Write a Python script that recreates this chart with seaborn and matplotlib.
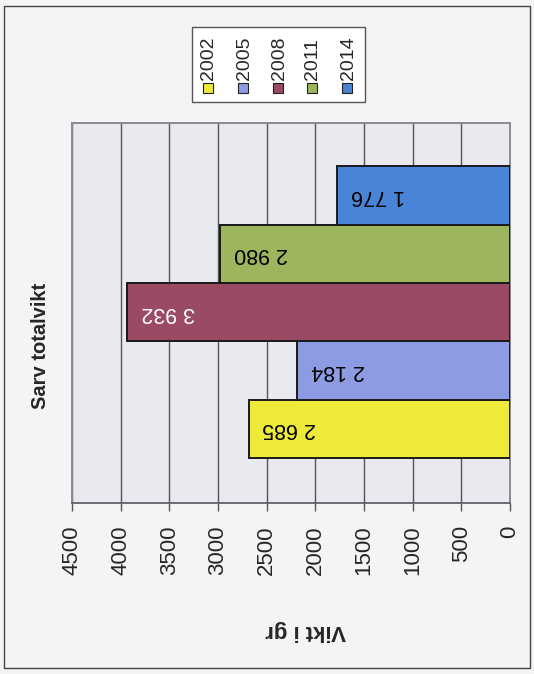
import matplotlib
matplotlib.use('Agg')
import matplotlib.pyplot as plt
import seaborn as sns
import pandas as pd
from matplotlib.patches import Rectangle

years = ['2002', '2005', '2008', '2011', '2014']
weights = [2685, 2184, 3932, 2980, 1776]
colors = ['#eeea3a', '#8d9ce2', '#9a4a62', '#9db55c', '#4a84d6']
label_colors = ['black', 'black', 'white', 'black', 'black']
xticks = [0, 500, 1000, 1500, 2000, 2500, 3000, 3500, 4000, 4500]
title = 'Sarv totalvikt'
value_title = 'Vikt i gr'

W, H = 534, 674

sns.set_style('white')
plt.rcParams['font.family'] = ['Liberation Sans', 'DejaVu Sans']

df = pd.DataFrame({'year': years, 'weight': weights})
palette = dict(zip(years, colors))
order = years[::-1]  # 2014 at the top


def fx(x):
    return x / W


def fy(y):
    return 1 - y / H


fig = plt.figure(figsize=(W / 100, H / 100), dpi=100)
fig.patch.set_facecolor('#f3f4f6')
ax = fig.add_axes([fx(72), fy(503), fx(510) - fx(72), fy(123) - fy(503)])
ax.set_facecolor('#e9eaef')

sns.barplot(data=df, y='year', x='weight', hue='year', order=order,
            hue_order=years, palette=palette, dodge=False, width=1.0,
            saturation=1, edgecolor='#1a1a1a', linewidth=1.4, legend=False,
            ax=ax, zorder=3)

ax.set_xlim(4500, 0)
ax.set_ylim(5.27, -1.24)
ax.set_xticks(xticks)
ax.set_xticklabels([str(t) for t in xticks], rotation=90, fontsize=16)
ax.tick_params(axis='x', length=6, width=1, color='#555555', pad=10,
               direction='out', bottom=True)
ax.set_yticks([])
ax.set_ylabel('')
ax.set_xlabel('')
ax.grid(axis='x', color='#555555', linewidth=1.0, zorder=0)
ax.set_axisbelow(True)
for side in ['left', 'top', 'right']:
    ax.spines[side].set_color('#8a8a8f')
    ax.spines[side].set_linewidth(1.4)
ax.spines['bottom'].set_color('#555560')
ax.spines['bottom'].set_linewidth(1.2)

# value labels inside the bars, upside down as in the scan
for yr, val, lc in zip(years, weights, label_colors):
    pos = order.index(yr)
    txt = f'{val:,}'.replace(',', ' ')
    ax.annotate(txt, xy=(val, pos), xytext=(14, 0), textcoords='offset pixels',
                rotation=180, ha='left', va='center', fontsize=15.5,
                color=lc, zorder=5)

# titles
fig.text(fx(41), fy(346), title, rotation=90, ha='center', va='center',
         fontsize=14.5, fontweight='bold')
fig.text(fx(306), fy(630), value_title, rotation=180, ha='center', va='center',
         fontsize=16, fontweight='bold')

# legend box (drawn by hand, the scan has it rotated)
fig.add_artist(Rectangle((fx(192), fy(102)), fx(365) - fx(192), fy(27) - fy(102),
                         transform=fig.transFigure, facecolor='white',
                         edgecolor='#555555', linewidth=1.0))
leg_x = [208, 243, 278, 312, 347]
for x, yr, c in zip(leg_x, years, colors):
    fig.add_artist(Rectangle((fx(x - 5), fy(93)), fx(10), 10 / H,
                             transform=fig.transFigure, facecolor=c,
                             edgecolor='#222222', linewidth=0.8))
    fig.text(fx(x + 1), fy(80), yr, rotation=90, ha='center', va='bottom',
             fontsize=14)

# outer frame of the scanned chart
fig.add_artist(Rectangle((fx(4), fy(668)), fx(530) - fx(4), fy(6) - fy(668),
                         transform=fig.transFigure, fill=False,
                         edgecolor='#444444', linewidth=1.0))

fig.savefig('out.png', dpi=100, facecolor=fig.get_facecolor())
